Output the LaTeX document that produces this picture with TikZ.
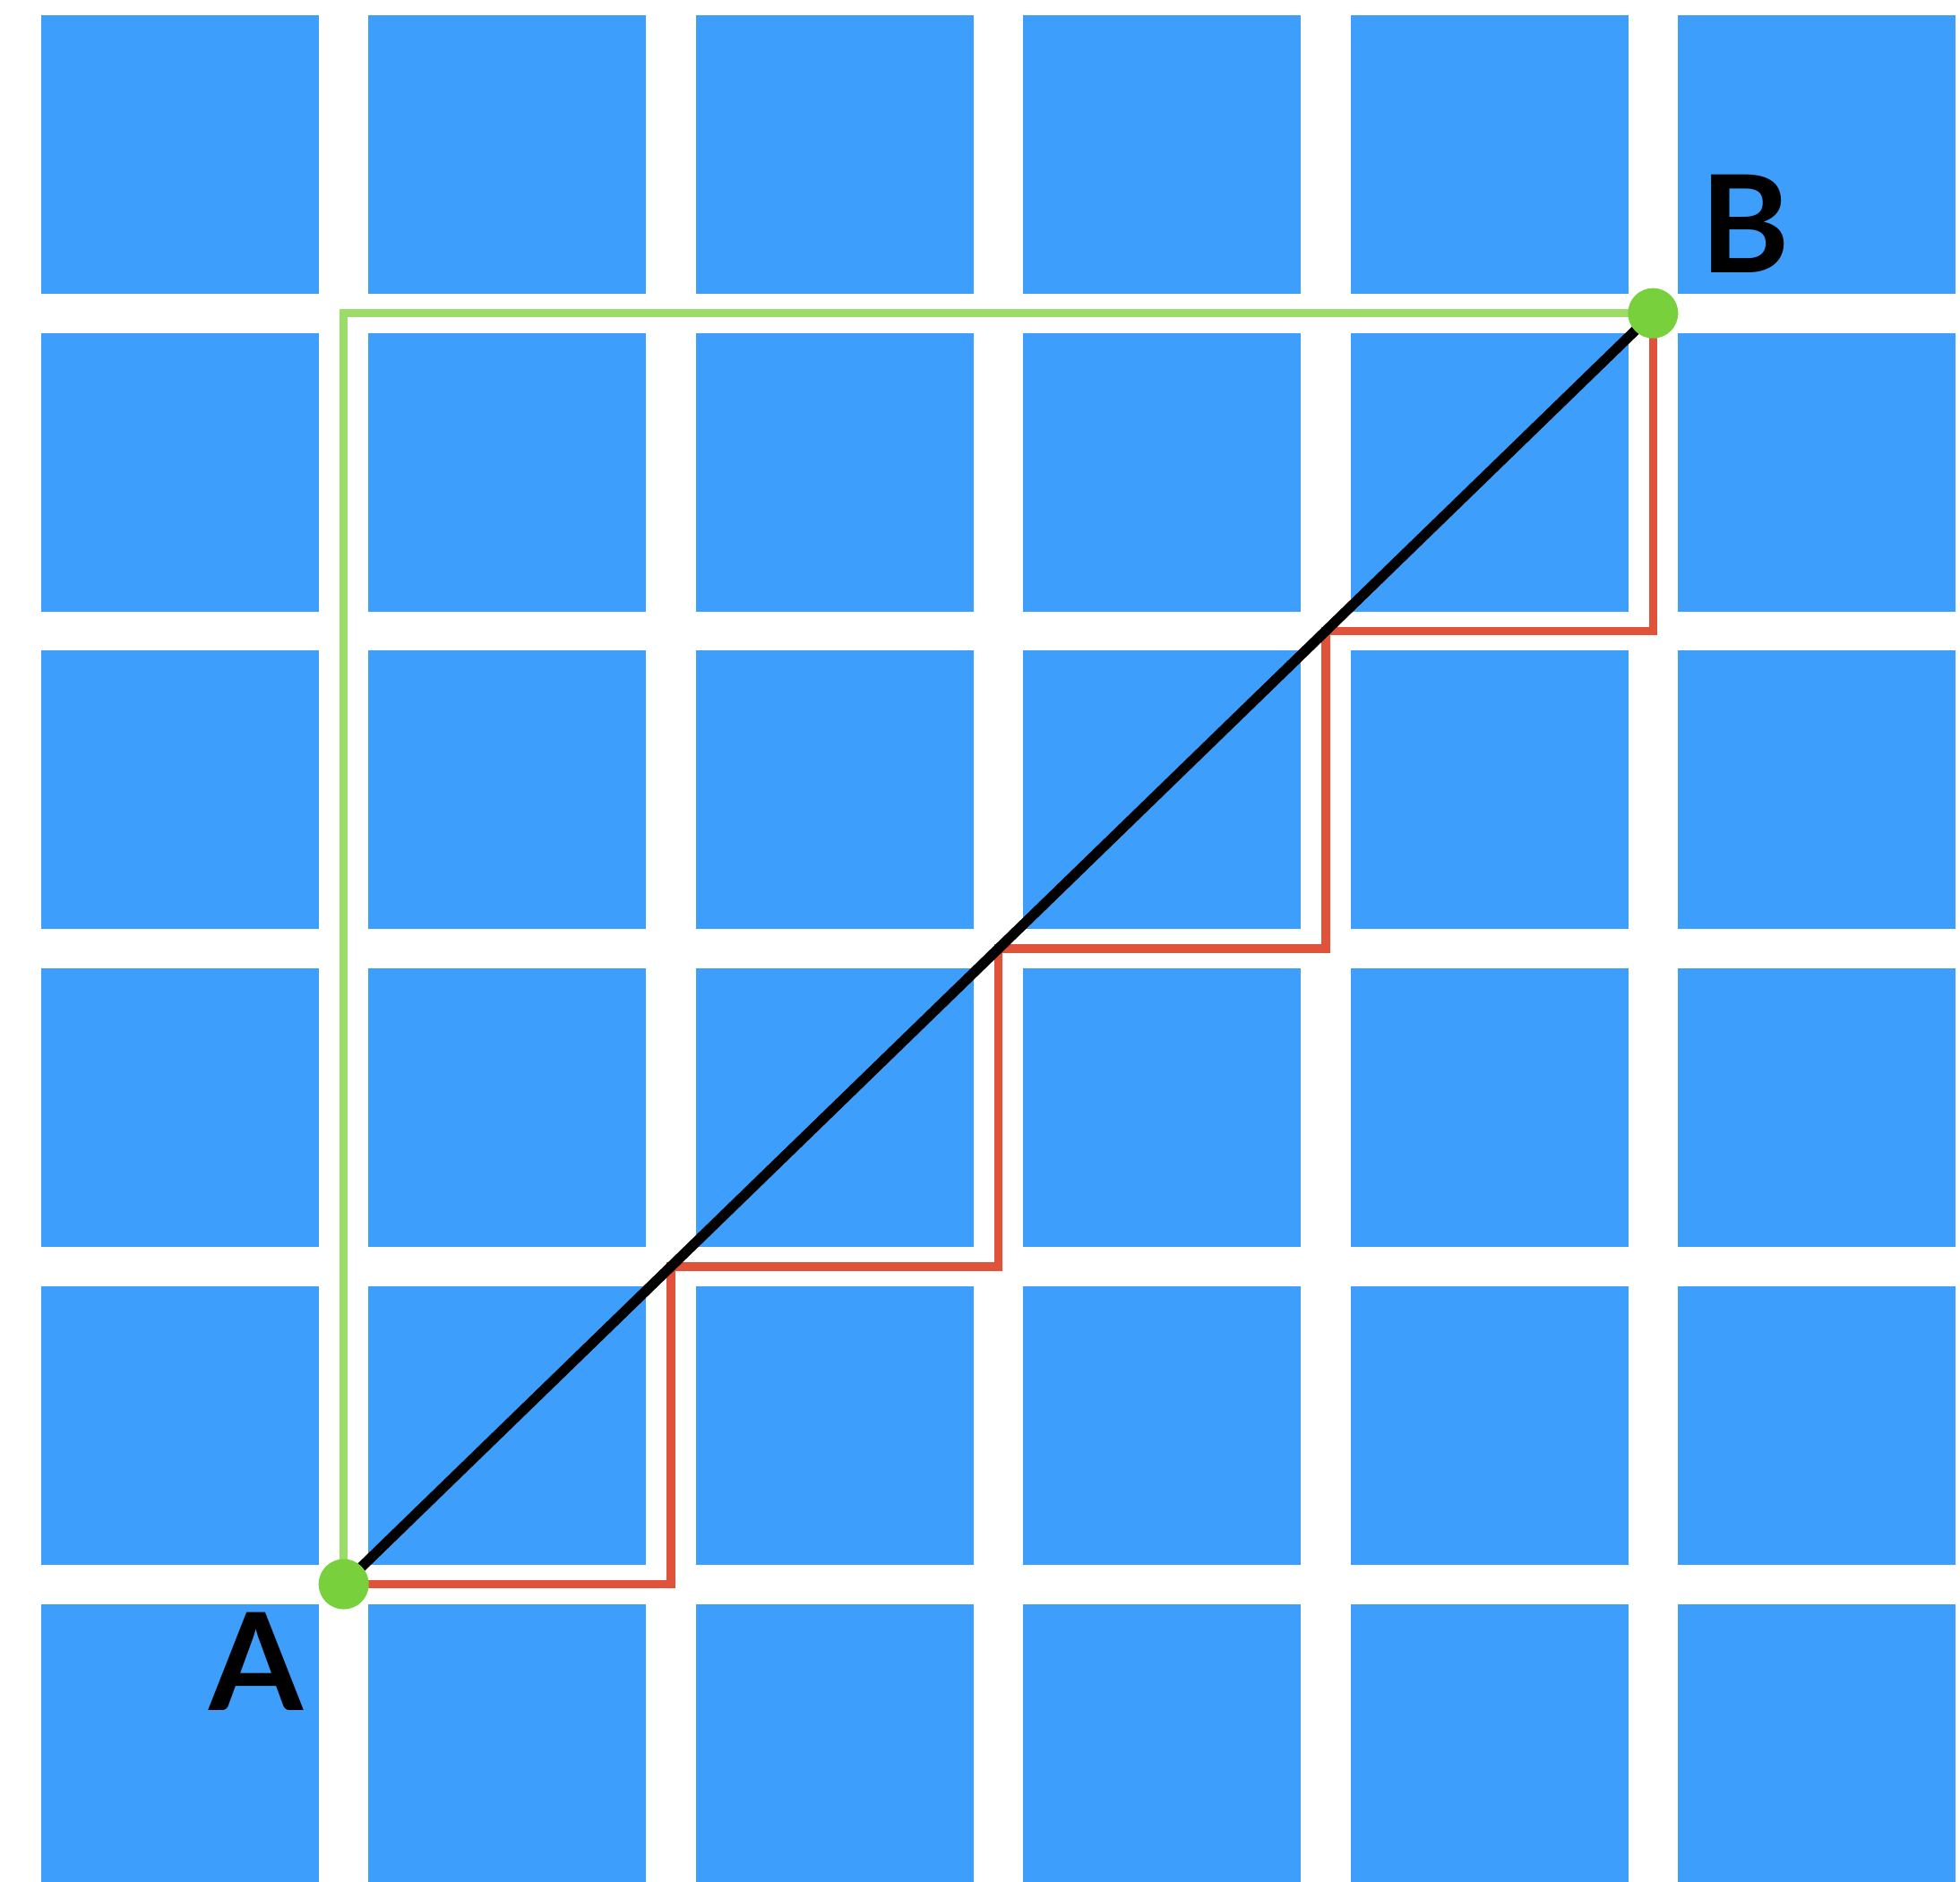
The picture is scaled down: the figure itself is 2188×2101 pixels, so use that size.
\documentclass[tikz,border=0pt]{standalone}
\usepackage{fontspec}
\setsansfont{Lato}
\usepackage{tikz}
\usetikzlibrary{positioning, calc}

\definecolor{cellblue}{HTML}{3E9EFB}
\definecolor{dotgreen}{HTML}{77D03C}
\definecolor{pathgreen}{HTML}{9ADE69}
\definecolor{pathred}{HTML}{E0533A}

\begin{document}
\begin{tikzpicture}[
    x=0.01cm, y=-0.01cm,
    cell/.style={fill=cellblue},
    dot/.style={circle, fill=dotgreen, inner sep=0pt, minimum size=0.56cm},
    lbl/.style={font=\sffamily\bfseries\fontsize{43}{43}\selectfont, text=black, inner sep=0pt},
    longway/.style={draw=pathgreen, line width=2.4pt},
    stairs/.style={draw=pathred, line width=2.7pt},
    direct/.style={draw=black, line width=3.2pt},
]
\useasboundingbox (0,0) rectangle (2188,2101);
\clip (0,0) rectangle (2188,2101);
\fill[white] (0,0) rectangle (2188,2101);

% blocks
\foreach \i in {0,...,5}
  \foreach \j in {0,...,5}
    \fill[cell] ({46+365.4*\i},{17+354.7*\j}) rectangle ++(310,311);

% street corners
\coordinate (A) at ({46+365.4*1-27.7},{17+354.7*5-22});
\coordinate (c1) at ({46+365.4*2-27.7},{17+354.7*4-22});
\coordinate (c2) at ({46+365.4*3-27.7},{17+354.7*3-22});
\coordinate (c3) at ({46+365.4*4-27.7},{17+354.7*2-22});
\coordinate (B) at ({46+365.4*5-27.7},{17+354.7*1-22});

\draw[longway] (A) |- (B);
\draw[stairs] (A) -| (c1) -| (c2) -| (c3) -| (B);
\draw[direct] (A) -- (B);

\node[dot] (dA) at (A) {};
\node[dot] (dB) at (B) {};
\node[lbl] (la) at (286,1855) {A};
\node[lbl] (lb) at (1948,250) {B};
\end{tikzpicture}
\end{document}
